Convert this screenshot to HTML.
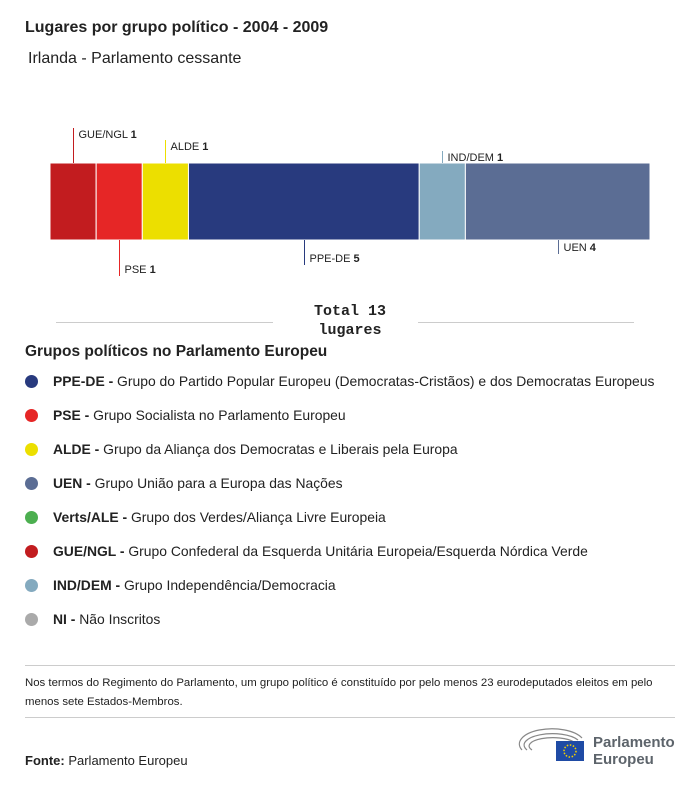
<!DOCTYPE html>
<html><head><meta charset="utf-8"><style>
body{margin:0;background:#fff;font-family:"Liberation Sans",sans-serif;color:#222}
#wrap{position:relative;width:700px;height:786px;overflow:hidden}
.t{position:absolute;white-space:nowrap}
.leg{position:absolute;left:25px;font-size:13.9px;white-space:nowrap}
.dot{display:inline-block;width:13px;height:13px;border-radius:50%;vertical-align:-2px;margin-right:15px}
</style></head><body><div id="wrap">
<div class="t" style="left:25px;top:19px;font-size:16px;font-weight:bold">Lugares por grupo político - 2004 - 2009</div>
<div class="t" style="left:28px;top:50px;font-size:16px">Irlanda - Parlamento cessante</div>
<svg id="bar" width="700" height="340" style="position:absolute;left:0;top:0"></svg>
<div style="position:absolute;left:56px;top:322px;width:217px;height:1px;background:#ccc"></div>
<div style="position:absolute;left:418px;top:322px;width:216px;height:1px;background:#ccc"></div>
<div class="t" style="left:290px;top:302px;width:120px;text-align:center;font-family:'Liberation Mono',monospace;font-weight:bold;font-size:15px;line-height:19px;white-space:normal">Total 13<br>lugares</div>
<div class="t" style="left:25px;top:343px;font-size:15.5px;font-weight:bold">Grupos políticos no Parlamento Europeu</div>
<div class="leg" style="top:373px"><span class="dot" style="background:#283a7e"></span><b>PPE-DE -</b> Grupo do Partido Popular Europeu (Democratas-Cristãos) e dos Democratas Europeus</div>
<div class="leg" style="top:407px"><span class="dot" style="background:#e62626"></span><b>PSE -</b> Grupo Socialista no Parlamento Europeu</div>
<div class="leg" style="top:441px"><span class="dot" style="background:#ecdf00"></span><b>ALDE -</b> Grupo da Aliança dos Democratas e Liberais pela Europa</div>
<div class="leg" style="top:475px"><span class="dot" style="background:#5b6d94"></span><b>UEN -</b> Grupo União para a Europa das Nações</div>
<div class="leg" style="top:509px"><span class="dot" style="background:#4caf50"></span><b>Verts/ALE -</b> Grupo dos Verdes/Aliança Livre Europeia</div>
<div class="leg" style="top:543px"><span class="dot" style="background:#c21c1f"></span><b>GUE/NGL -</b> Grupo Confederal da Esquerda Unitária Europeia/Esquerda Nórdica Verde</div>
<div class="leg" style="top:577px"><span class="dot" style="background:#84aabf"></span><b>IND/DEM -</b> Grupo Independência/Democracia</div>
<div class="leg" style="top:611px"><span class="dot" style="background:#aaa"></span><b>NI -</b> Não Inscritos</div>
<div style="position:absolute;left:25px;top:665px;width:650px;height:1px;background:#ccc"></div>
<div class="t" style="left:25px;top:674px;font-size:11.4px;line-height:19px;white-space:normal;width:650px">Nos termos do Regimento do Parlamento, um grupo político é constituído por pelo menos 23 eurodeputados eleitos em pelo menos sete Estados-Membros.</div>
<div style="position:absolute;left:25px;top:717px;width:650px;height:1px;background:#ccc"></div>
<div class="t" style="left:25px;top:753px;font-size:13px"><b>Fonte:</b> Parlamento Europeu</div>
<svg style="position:absolute;left:518px;top:728px" width="70" height="36">
<g fill="none" stroke="#888" stroke-width="1.2"><path d="M4 22 A30 14 0 0 1 64 10"/><path d="M9 22 A25 10 0 0 1 60 12"/><path d="M14 22 A20 7 0 0 1 56 14"/></g>
<rect x="38" y="13" width="28" height="20" fill="#1f4ba5"/><circle cx="52" cy="23" r="6" fill="none" stroke="#f6d200" stroke-width="1.5" stroke-dasharray="1.5 1.6"/></svg>
<div class="t" style="left:593px;top:734px;font-size:15px;font-weight:bold;color:#5d646b;line-height:17px">Parlamento<br>Europeu</div>
</div>
<script>
const groups=["GUE/NGL","PSE","ALDE","PPE-DE","IND/DEM","UEN"];
const seats=[1,1,1,5,1,4];
const colors=["#c21c1f","#e62626","#ecdf00","#283a7e","#84aabf","#5b6d94"];
const lineLen=[35,36,23,25,12,14];
const up=[true,false,true,false,true,false];
const svg=document.getElementById('bar');const NS='http://www.w3.org/2000/svg';
const total=seats.reduce((a,b)=>a+b,0);const x0=50,W=600,y0=163,H=77;
const xs=v=>x0+v/total*W;
let acc=0;
groups.forEach((g,i)=>{
const a=xs(acc),b=xs(acc+seats[i]);acc+=seats[i];
const r=document.createElementNS(NS,'rect');


r.setAttribute('x',a);r.setAttribute('y',y0);r.setAttribute('width',b-a);r.setAttribute('height',H);r.setAttribute('fill',colors[i]);r.setAttribute('stroke','#fff');r.setAttribute('stroke-width','1');
svg.appendChild(r);
const cx=Math.round((a+b)/2)+0.5;
const y1=up[i]?y0:y0+H, y2=up[i]?y0-lineLen[i]:y0+H+lineLen[i];
const l=document.createElementNS(NS,'line');


l.setAttribute('x1',cx);l.setAttribute('x2',cx);l.setAttribute('y1',y1);l.setAttribute('y2',y2);l.setAttribute('stroke',colors[i]);
svg.appendChild(l);
const t=document.createElementNS(NS,'text');


t.setAttribute('x',cx+5);t.setAttribute('y',up[i]?y2+10:y2-3);t.setAttribute('font-size','11');t.setAttribute('fill','#222');
t.innerHTML=g+' <tspan font-weight="bold">'+seats[i]+'</tspan>';
svg.appendChild(t);
});
</script></body></html>
